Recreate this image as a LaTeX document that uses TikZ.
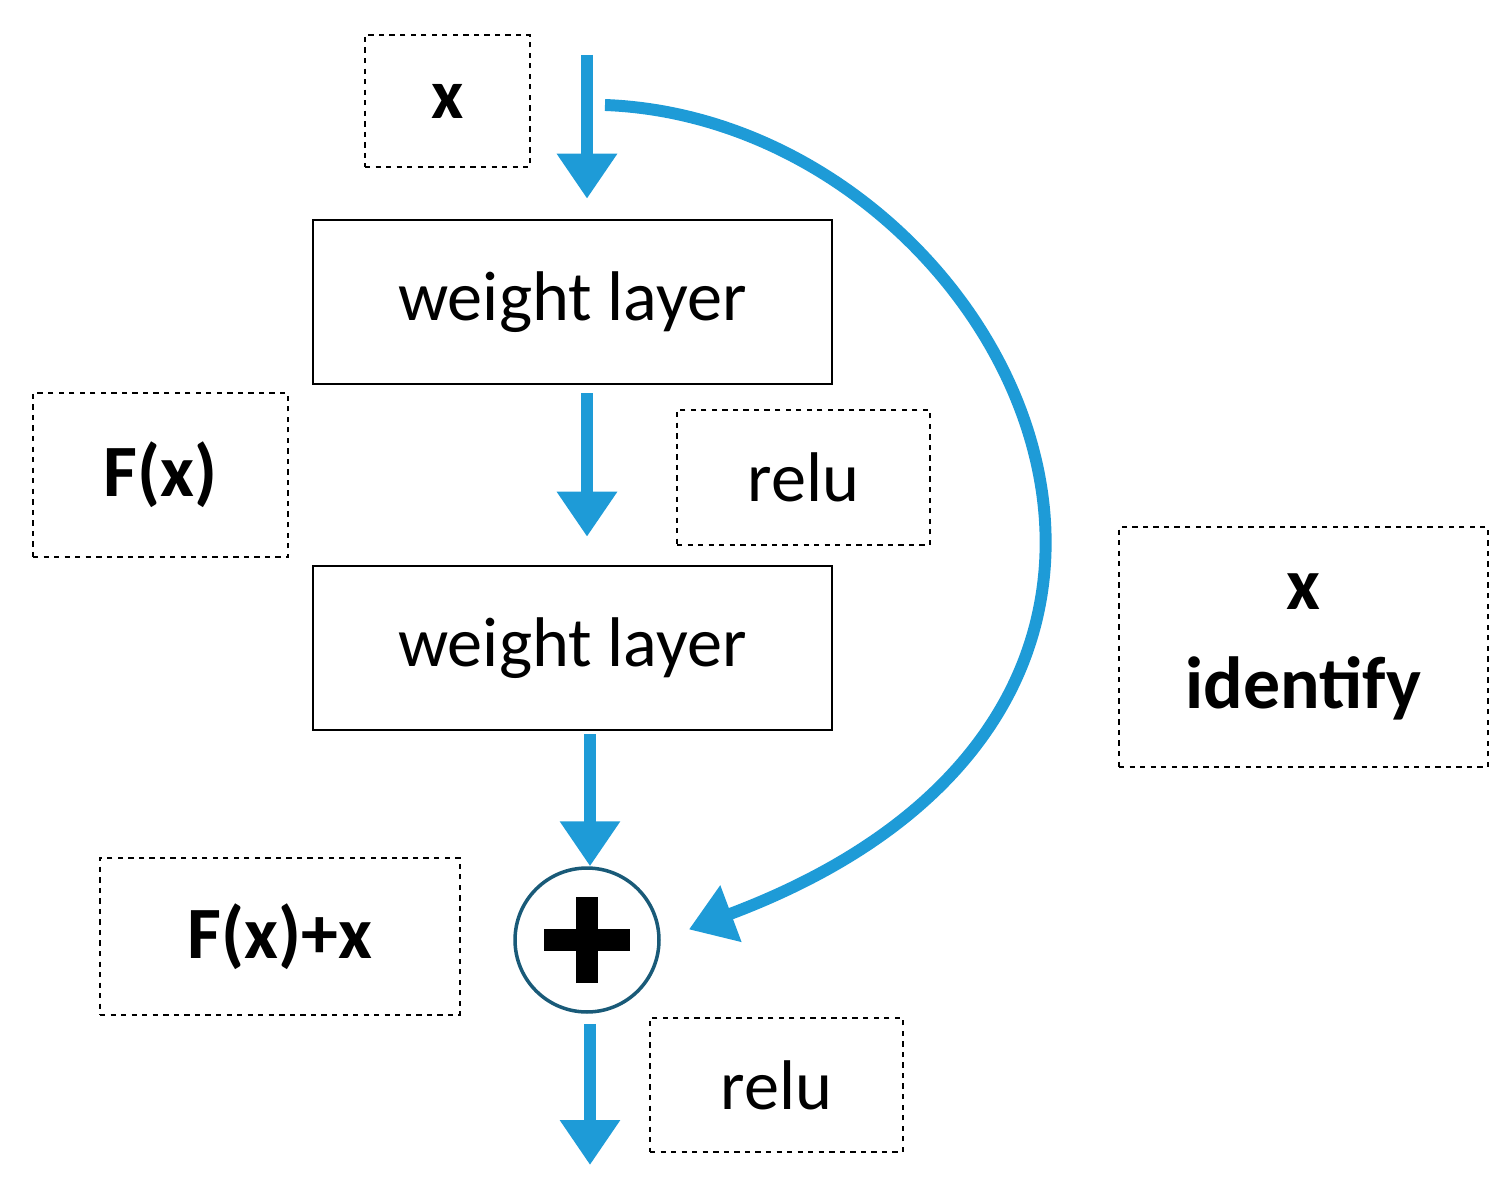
\documentclass[tikz,border=0pt]{standalone}
\usepackage{fontspec}
\setmainfont{Carlito}
\usetikzlibrary{arrows.meta}
\definecolor{flow}{RGB}{30,155,215}
\definecolor{ring}{RGB}{25,90,120}
\begin{document}
\begin{tikzpicture}[x=0.02cm,y=-0.02cm,
  layer/.style={draw, line width=1.5pt, font=\fontsize{40}{46}\selectfont, minimum width=10.38cm, minimum height=3.28cm},
  tag/.style={draw, dashed, line width=1.2pt, font=\fontsize{40}{46}\selectfont, align=center},
  flowarrow/.style={flow, line width=6.8pt, -{Triangle[length=0.9cm,width=1.15cm]}}]
\useasboundingbox (0,0) rectangle (1510,1189);
\node[tag, minimum width=3.3cm, minimum height=2.64cm, font=\fontsize{40}{46}\selectfont\bfseries] (xin) at (447.5,101) {x};
\node[layer] (wlone) at (572.5,302) {weight layer};
\node[tag, minimum width=5.1cm, minimum height=3.28cm, font=\fontsize{42}{46}\selectfont\bfseries] (fx) at (160.5,475) {F(x)};
\node[tag, minimum width=5.06cm, minimum height=2.7cm] (reluone) at (803.5,477.5) {relu};
\node[layer] (wltwo) at (572.5,648) {weight layer};
\node[draw=ring, circle, line width=2pt, minimum size=2.88cm] (add) at (587,940) {};
\draw[line width=12pt] ([xshift=-0.86cm]add.center) -- ([xshift=0.86cm]add.center);
\draw[line width=12pt] ([yshift=-0.86cm]add.center) -- ([yshift=0.86cm]add.center);
\node[tag, minimum width=7.2cm, minimum height=3.14cm, font=\fontsize{42}{46}\selectfont\bfseries] (fxx) at (280,936.5) {F(x)+x};
\node[tag, minimum width=5.06cm, minimum height=2.68cm] (relutwo) at (776.5,1085) {relu};
\node[tag, minimum width=7.38cm, minimum height=4.8cm, font=\fontsize{42}{56}\selectfont\bfseries] (ident) at (1303.5,647) {x\\identify};
\coordinate (top) at (587,55);
\coordinate (skip) at (605,105);
\coordinate (out) at (590,1165);
% main path
\draw[flowarrow, shorten >=0.4cm] (top) -- (wlone.north -| top);
\draw[flowarrow, shorten <=0.16cm, shorten >=0.56cm] (wlone.south -| top) -- (wltwo.north -| top);
\draw[flowarrow, shorten <=0.06cm] (wltwo.south -| out) -- (add.north -| out);
\draw[flowarrow, shorten <=0.2cm] (add.south -| out) -- (out);
% shortcut
\draw[flowarrow, shorten >=0.6cm] (skip) .. controls (1000,120) and (1300,700) .. (add.east);
\end{tikzpicture}
\end{document}
